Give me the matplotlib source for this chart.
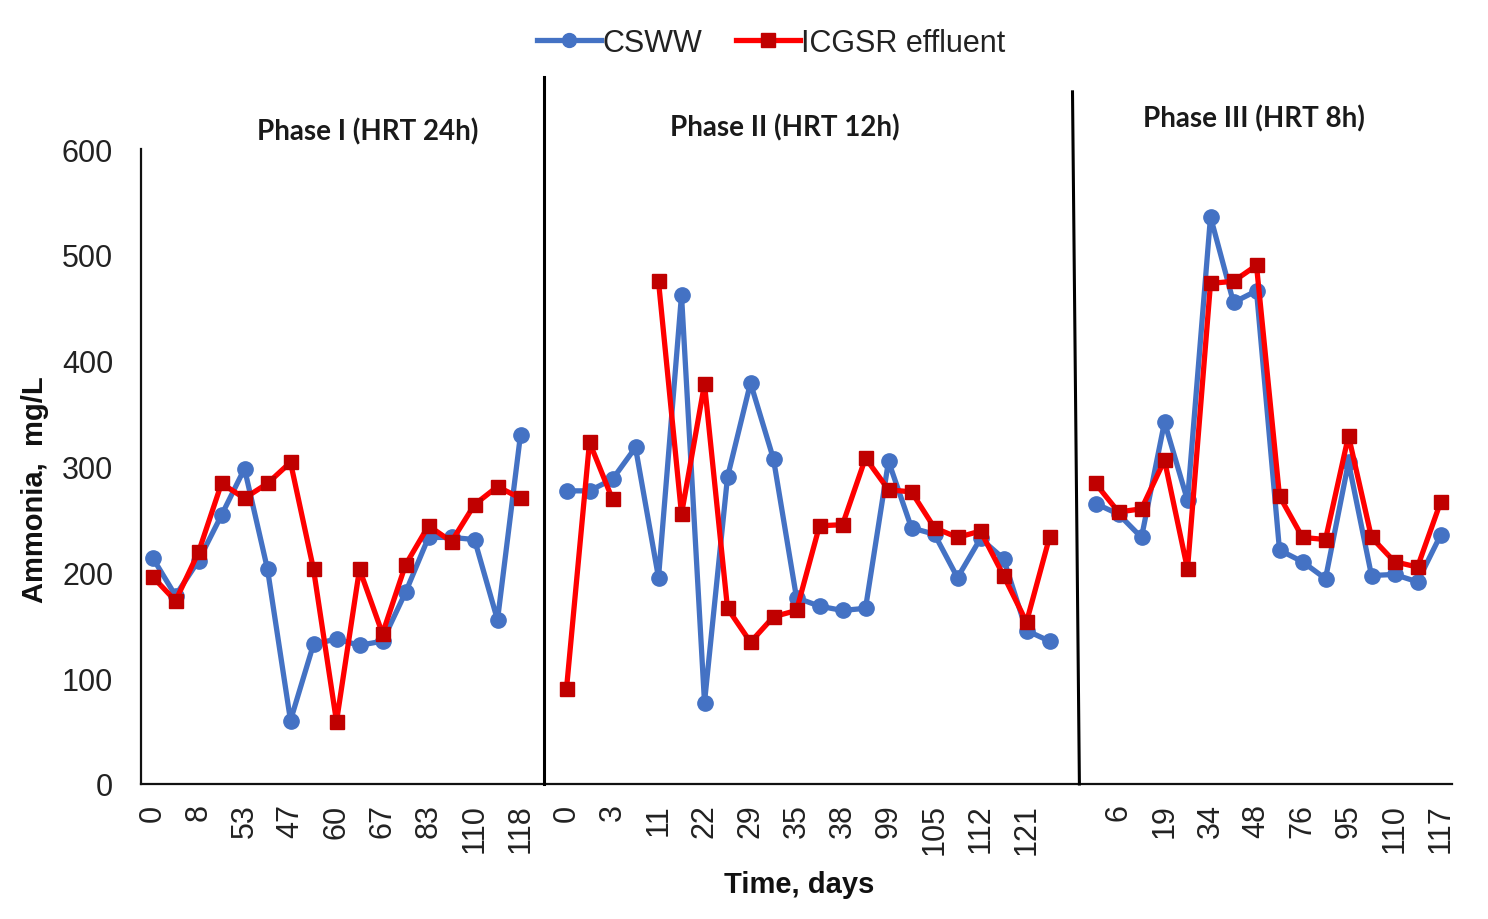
import numpy as np
import matplotlib
matplotlib.use("Agg")
import matplotlib.pyplot as plt
from matplotlib.lines import Line2D

nan = np.nan

# ---- data (57 categorical positions; NaN = gap) ----
csww_phase1 = [214, 178, 211, 254, 298, 203, 60, 132, 137, 131, 135, 181, 233, 233, 231, 155, 330]
icgsr_phase1 = [196, 173, 219, 284, 270, 284, 304, 203, 59, 203, 142, 207, 244, 229, 264, 281, 270]

csww_phase2 = [277, 277, 288, 318, 195, 462, 77, 290, 379, 307, 176, 168, 164, 166, 305, 242, 236, 195, 232, 213, 145, 135]
icgsr_phase2 = [90, 323, 269, nan, 475, 255, 378, 166, 134, 158, 164, 244, 245, 308, 278, 276, 242, 233, 239, 197, 153, 233]

csww_phase3 = [265, 255, 233, 342, 268, 536, 455, 466, 221, 210, 194, 304, 197, 198, 191, 235]
icgsr_phase3 = [284, 257, 260, 306, 203, 473, 475, 490, 272, 233, 231, 329, 233, 210, 205, 266]

tick_labels = ['0', '8', '53', '47', '60', '67', '83', '110', '118',
               '0', '3', '11', '22', '29', '35', '38', '99', '105', '112', '121',
               '', '6', '19', '34', '48', '76', '95', '110', '117']

phase_titles = ['Phase I (HRT 24h)', 'Phase II (HRT 12h)', 'Phase III (HRT 8h)']
y_ticks = [0, 100, 200, 300, 400, 500, 600]

csww = csww_phase1 + [nan] + csww_phase2 + [nan] + csww_phase3
icgsr = icgsr_phase1 + [nan] + icgsr_phase2 + [nan] + icgsr_phase3
x = np.arange(len(csww))

BLUE = '#4472C4'
RED_LINE = '#FF0000'
RED_MARK = '#C00000'

fig = plt.figure(figsize=(14.88, 9.2), dpi=100)
ax = fig.add_axes([141/1488, 1-785/920, (1452-141)/1488, (785-150)/920])

ax.plot(x, csww, color=BLUE, lw=3.8, marker='o', ms=11, mfc=BLUE, mec=BLUE, zorder=3)
ax.plot(x, icgsr, color=RED_LINE, lw=3.8, marker='s', ms=10.5, mfc=RED_MARK, mec=RED_MARK, zorder=4)

ax.set_xlim(-0.5, len(x) - 0.5)
ax.set_ylim(0, 600)
ax.set_yticks(y_ticks)
ax.set_yticklabels([str(v) for v in y_ticks], fontsize=22, family='Liberation Sans', color='#222222')
ax.set_xticks(x[::2])
ax.set_xticklabels(tick_labels, rotation=90, fontsize=22, family='Liberation Sans', color='#222222')
ax.tick_params(axis='both', length=0)
ax.tick_params(axis='x', pad=14)
ax.tick_params(axis='y', pad=20)

for s in ['top', 'right']:
    ax.spines[s].set_visible(False)
for s in ['left', 'bottom']:
    ax.spines[s].set_linewidth(1.6)
    ax.spines[s].set_color('#111111')

# phase separators
ax.plot([17, 17], [0, 668], color='black', lw=2.2, clip_on=False, zorder=5)
ax.plot([40.3, 40.0], [0, 654], color='black', lw=2.2, clip_on=False, zorder=5)

# phase titles
title_pos = [(9.34, 617), (27.5, 621), (47.9, 629)]
for (tx, ty), t in zip(title_pos, phase_titles):
    ax.text(tx, ty, t, ha='center', va='center', fontsize=20, fontweight='bold',
            family='Lato', color='#1a1a1a', clip_on=False)

fig.text(35/1488, 1-490/920, 'Ammonia,  mg/L', rotation=90, ha='center', va='center',
         fontsize=21, fontweight='bold', family='Liberation Sans', color='#111111')
fig.text(799/1488, 1-885/920, 'Time, days', ha='center', va='center',
         fontsize=21, fontweight='bold', family='Liberation Sans', color='#111111')

handles = [Line2D([], [], color=BLUE, lw=3.8, marker='o', ms=10, mfc=BLUE, mec=BLUE),
           Line2D([], [], color=RED_LINE, lw=3.8, marker='s', ms=9.5, mfc=RED_MARK, mec=RED_MARK)]
fig.legend(handles, ['CSWW', 'ICGSR effluent'], loc='center', bbox_to_anchor=(771/1488, 1-44/920),
           ncol=2, frameon=False, handlelength=2.1, handletextpad=0.05, columnspacing=1.1,
           prop={'family': 'Liberation Sans', 'size': 22})
for t in fig.legends[0].get_texts():
    t.set_color('#222222')

fig.savefig('out.png', dpi=100, facecolor='white')
